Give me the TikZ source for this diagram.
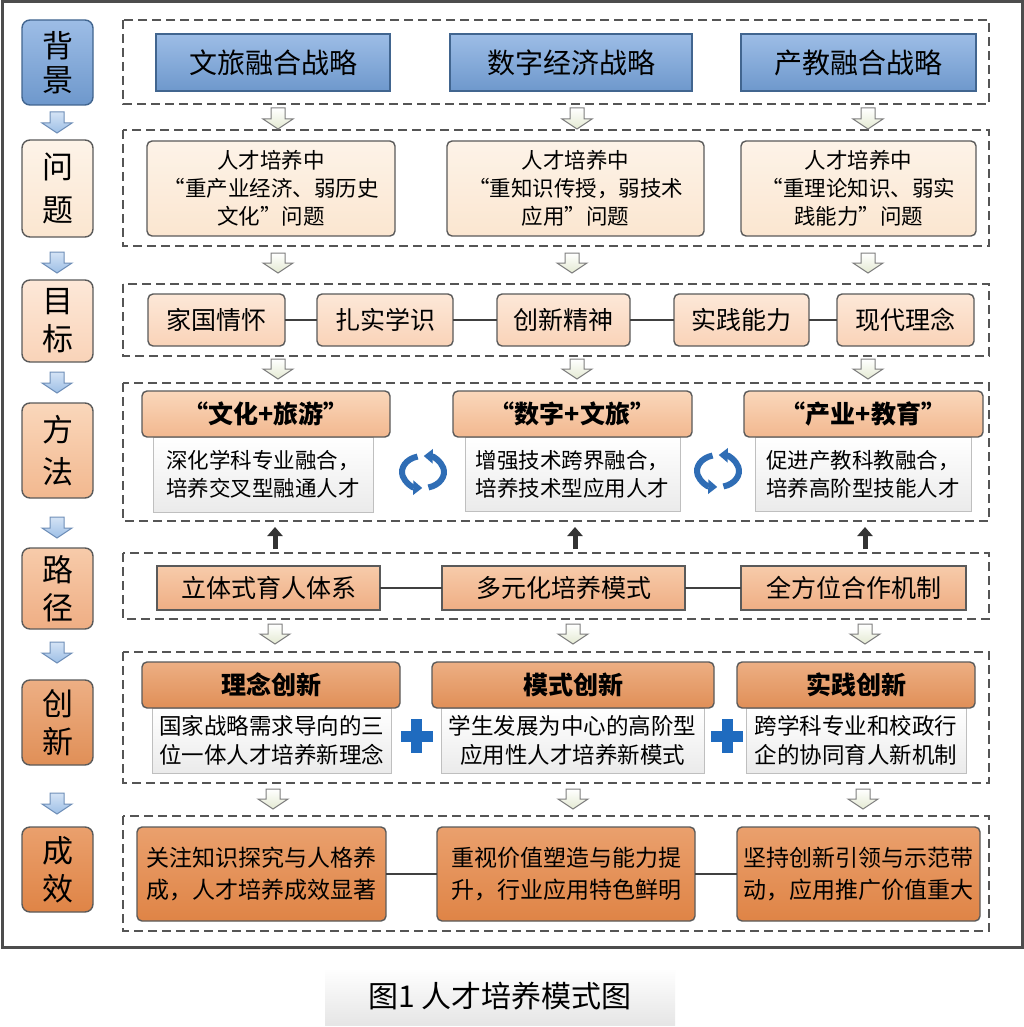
\documentclass[tikz,border=0pt]{standalone}
\usepackage{fontspec}
\setmainfont{Noto Sans CJK SC}
\usetikzlibrary{arrows.meta}
\definecolor{frame}{HTML}{4D4D4D}
\definecolor{dash}{HTML}{555555}
\definecolor{edge}{HTML}{5A5A5A}
\definecolor{blueT}{HTML}{9DBDE6}
\definecolor{blueB}{HTML}{6E98CC}
\definecolor{blueE}{HTML}{41658F}
\definecolor{creamT}{HTML}{FDF3E8}
\definecolor{creamB}{HTML}{FBE6D0}
\definecolor{peachT}{HTML}{FDE8D8}
\definecolor{peachB}{HTML}{F9D3B8}
\definecolor{methT}{HTML}{FAD7BB}
\definecolor{methB}{HTML}{F2B88F}
\definecolor{pathT}{HTML}{F7CBAA}
\definecolor{pathB}{HTML}{EFAE84}
\definecolor{innoT}{HTML}{EDAF84}
\definecolor{innoB}{HTML}{E08F57}
\definecolor{effT}{HTML}{EAA06D}
\definecolor{effB}{HTML}{DF8446}
\definecolor{arrF}{HTML}{E4EAD2}
\definecolor{arrE}{HTML}{7F7F7F}
\definecolor{larrT}{HTML}{D4E3F5}
\definecolor{larrB}{HTML}{9DBFE6}
\definecolor{larrE}{HTML}{6F8FB8}
\definecolor{cyc}{HTML}{2F6DB5}
\definecolor{plusc}{HTML}{1F6BBF}
\newcommand\bx[8]{\node[#6, minimum width={#4-#2}, minimum height={#5-#3}, font={\fontsize{#7}{\the\dimexpr #7pt*13/10\relax}\selectfont}] (#1) at ({(#2+#4)/2},{(#3+#5)/2}) {#8};}
\newcommand\darr[4]{\draw[#4] ({#1-7},#2) -- ({#1+7},#2) -- ({#1+7},{#3-10}) -- ({#1+15},{#3-10}) -- (#1,#3) -- ({#1-15},{#3-10}) -- ({#1-7},{#3-10}) -- cycle;}
\begin{document}
\begin{tikzpicture}[x=1pt,y=-1pt,
  base/.style={inner sep=0pt, outer sep=0pt, align=center, text=black, line width=1.4pt},
  lbl/.style={base, rounded corners=8pt, draw=edge},
  lblblue/.style={lbl, top color=blueT, bottom color=blueB, draw=blueE},
  strat/.style={base, draw=blueE, top color=blueT, bottom color=blueB},
  prob/.style={base, rounded corners=5pt, draw=edge, top color=creamT, bottom color=creamB},
  goal/.style={base, rounded corners=5pt, draw=edge, top color=peachT, bottom color=peachB},
  methhead/.style={base, rounded corners=5pt, draw=edge, top color=methT, bottom color=methB},
  bodybox/.style={base, draw=black!25, line width=0.8pt, top color=white, bottom color=black!8},
  pathbox/.style={base, draw=edge, top color=pathT, bottom color=pathB},
  innohead/.style={base, rounded corners=5pt, draw=edge, top color=innoT, bottom color=innoB},
  effbox/.style={base, rounded corners=5pt, draw=edge, top color=effT, bottom color=effB},
  grp/.style={draw=dash, line width=1.4pt, dash pattern=on 9pt off 5pt},
  rowarr/.style={draw=arrE, line width=1pt, top color=white, bottom color=arrF},
  leftarr/.style={draw=larrE, line width=1pt, top color=larrT, bottom color=larrB},
  link/.style={draw=black!75, line width=2.4pt},
  uparr/.style={draw=black!80, line width=5pt, -{Triangle[length=9pt,width=15pt]}},
  cycarr/.style={draw=cyc, line width=6pt, -{Triangle[length=9pt,width=14pt]}}
]
\useasboundingbox (0,0) rectangle (1024,1027);
\fill[white] (0,0) rectangle (1024,1027);
% outer frame
\draw[frame, line width=3pt] (2,2) rectangle (1022,947);
% caption
\node[inner sep=0pt, minimum width=350pt, minimum height=57pt, top color=white, bottom color=black!10] (cap) at (500,996.5) {\fontsize{30}{36}\selectfont 图1 人才培养模式图};
% dashed groups
\draw[grp] (123,20) rectangle (989,104);
\draw[grp] (123,130) rectangle (989,246);
\draw[grp] (123,284) rectangle (989,356);
\draw[grp] (123,383) rectangle (989,521);
\draw[grp] (123,553) rectangle (989,619);
\draw[grp] (123,652) rectangle (989,783);
\draw[grp] (123,816) rectangle (989,931);
% left labels
\bx{L1}{22}{20}{93}{105}{lblblue}{31}{背\\[-6pt]景}
\bx{L2}{22}{140}{93}{237}{lbl, top color=creamT, bottom color=creamB}{31}{问\\[2pt]题}
\bx{L3}{22}{280}{93}{362}{lbl, top color=peachT, bottom color=peachB}{31}{目\\[-2pt]标}
\bx{L4}{22}{403}{93}{498}{lbl, top color=methT, bottom color=methB}{31}{方\\[2pt]法}
\bx{L5}{22}{548}{93}{629}{lbl, top color=pathT, bottom color=pathB}{31}{路\\[-2pt]径}
\bx{L6}{22}{680}{93}{765}{lbl, top color=innoT, bottom color=innoB}{31}{创\\[-2pt]新}
\bx{L7}{22}{827}{93}{912}{lbl, top color=effT, bottom color=effB}{31}{成\\[-2pt]效}
% left arrows
\darr{57}{112}{133}{leftarr}
\darr{57}{252}{273}{leftarr}
\darr{57}{372}{393}{leftarr}
\darr{57}{517}{538}{leftarr}
\darr{57}{642}{663}{leftarr}
\darr{57}{793}{814}{leftarr}
% row 1
\bx{B1}{156}{34}{390}{91}{strat}{28}{文旅融合战略}
\bx{B2}{450}{34}{692}{91}{strat}{28}{数字经济战略}
\bx{B3}{741}{34}{976}{91}{strat}{28}{产教融合战略}
% row 2
\bx{P1}{147}{141}{395}{236}{prob}{21.5}{人才培养中\\“重产业经济、弱历史\\文化”问题}
\bx{P2}{447}{141}{704}{236}{prob}{21.5}{人才培养中\\“重知识传授，弱技术\\应用”问题}
\bx{P3}{741}{141}{976}{236}{prob}{21.5}{人才培养中\\“重理论知识、弱实\\践能力”问题}
% row 3
\bx{G1}{148}{294}{285}{346}{goal}{25}{家国情怀}
\bx{G2}{317}{294}{453}{346}{goal}{25}{扎实学识}
\bx{G3}{497}{294}{630}{346}{goal}{25}{创新精神}
\bx{G4}{674}{294}{809}{346}{goal}{25}{实践能力}
\bx{G5}{837}{294}{974}{346}{goal}{25}{现代理念}
\draw[link] (G1.east) -- (G2.west);
\draw[link] (G2.east) -- (G3.west);
\draw[link] (G3.east) -- (G4.west);
\draw[link] (G4.east) -- (G5.west);
% row 4
\bx{M1}{153}{437}{373}{512}{bodybox}{21.5}{深化学科专业融合，\\培养交叉型融通人才}
\bx{M2}{465}{437}{680}{511}{bodybox}{21.5}{增强技术跨界融合，\\培养技术型应用人才}
\bx{M3}{755}{437}{971}{511}{bodybox}{21.5}{促进产教科教融合，\\培养高阶型技能人才}
\bx{H1}{142}{391}{390}{437}{methhead}{25}{\bfseries “文化+旅游”}
\bx{H2}{453}{391}{692}{437}{methhead}{25}{\bfseries “数字+文旅”}
\bx{H3}{744}{391}{983}{437}{methhead}{25}{\bfseries “产业+教育”}
% cycle icons
\foreach \cx/\cy in {423/472, 718/471}{
\begin{scope}[shift={(\cx,\cy)}, yscale=-1]
\draw[cycarr] (105:21 and 16) arc[start angle=105, end angle=268, x radius=21, y radius=16];
\draw[cycarr] (285:21 and 16) arc[start angle=285, end angle=448, x radius=21, y radius=16];
\end{scope}}
% row 5
\bx{R1}{157}{566}{380}{610}{pathbox}{25}{立体式育人体系}
\bx{R2}{442}{566}{685}{610}{pathbox}{25}{多元化培养模式}
\bx{R3}{741}{566}{966}{610}{pathbox}{25}{全方位合作机制}
\draw[link] (R1.east) -- (R2.west);
\draw[link] (R2.east) -- (R3.west);
% up arrows
\coordinate (u1) at (275,549); \coordinate (v1) at (275,527);
\coordinate (u2) at (575,549); \coordinate (v2) at (575,527);
\coordinate (u3) at (865,549); \coordinate (v3) at (865,527);
\draw[uparr] (u1) -- (v1);
\draw[uparr] (u2) -- (v2);
\draw[uparr] (u3) -- (v3);
% row 6
\bx{J1}{152}{708}{391}{773}{bodybox}{22.5}{国家战略需求导向的三\\位一体人才培养新理念}
\bx{J2}{441}{708}{704}{773}{bodybox}{22.5}{学生发展为中心的高阶型\\应用性人才培养新模式}
\bx{J3}{746}{708}{966}{773}{bodybox}{22.5}{跨学科专业和校政行\\企的协同育人新机制}
\bx{I1}{142}{662}{400}{708}{innohead}{25}{\bfseries 理念创新}
\bx{I2}{432}{662}{714}{708}{innohead}{25}{\bfseries 模式创新}
\bx{I3}{737}{662}{975}{708}{innohead}{25}{\bfseries 实践创新}
% plus signs
\foreach \px/\py in {416.5/736, 727/736}{
\fill[plusc] ({\px-16},{\py-5.5}) rectangle ({\px+16},{\py+5.5});
\fill[plusc] ({\px-5.5},{\py-17}) rectangle ({\px+5.5},{\py+17});}
% row 7
\bx{E1}{137}{827}{386}{921}{effbox}{23}{关注知识探究与人格养\\[3pt]成，人才培养成效显著}
\bx{E2}{437}{827}{695}{921}{effbox}{23}{重视价值塑造与能力提\\[3pt]升，行业应用特色鲜明}
\bx{E3}{737}{827}{980}{921}{effbox}{23}{坚持创新引领与示范带\\[3pt]动，应用推广价值重大}
\draw[link] (E1.east) -- (E2.west);
\draw[link] (E2.east) -- (E3.west);
% row arrows
\darr{278}{108}{129}{rowarr}\darr{577}{108}{129}{rowarr}\darr{868}{108}{129}{rowarr}
\darr{278}{253}{273}{rowarr}\darr{572}{253}{273}{rowarr}\darr{868}{253}{273}{rowarr}
\darr{278}{359}{379}{rowarr}\darr{577}{359}{379}{rowarr}\darr{868}{359}{379}{rowarr}
\darr{275}{624}{644}{rowarr}\darr{573}{624}{644}{rowarr}\darr{865}{624}{644}{rowarr}
\darr{273}{789}{809}{rowarr}\darr{573}{789}{809}{rowarr}\darr{863}{789}{809}{rowarr}
\end{tikzpicture}
\end{document}
